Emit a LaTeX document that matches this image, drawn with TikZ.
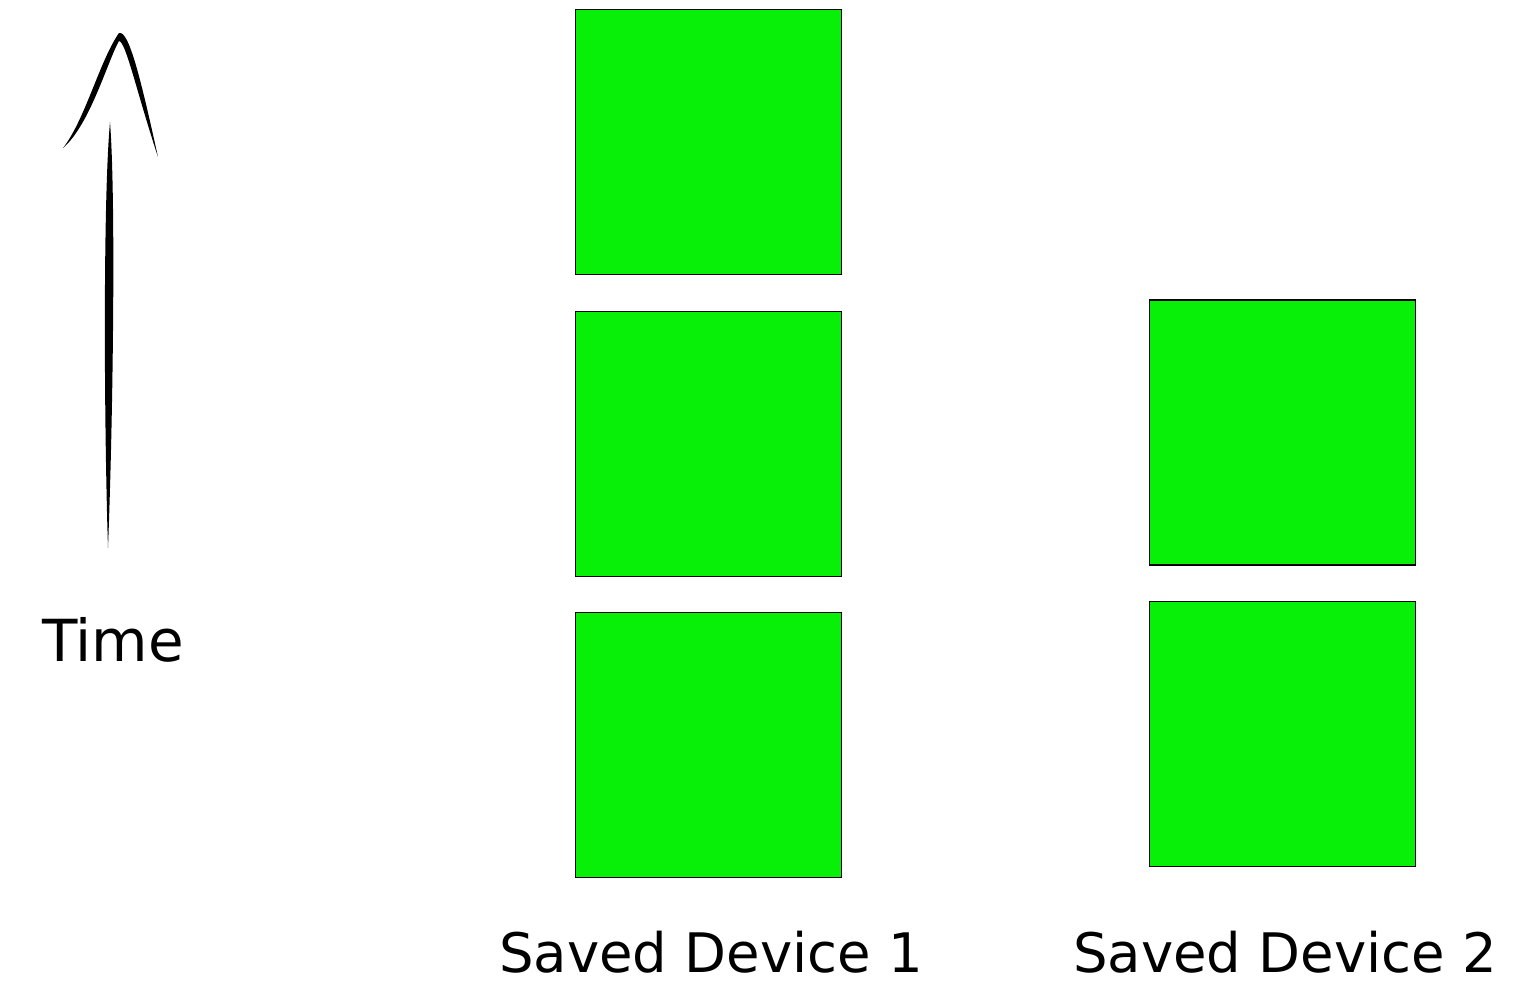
\documentclass[tikz,border=0pt]{standalone}
\usepackage{tikz}
\usepackage{xcolor}
\usepackage{fontspec}
\setmainfont{DejaVu Sans}
\definecolor{saved}{RGB}{8,240,8}

\begin{document}
\begin{tikzpicture}[x=0.02cm,y=-0.02cm]
  \useasboundingbox (0,0) rectangle (1528,994);
  \tikzset{savebox/.style={draw=black,line width=1pt,fill=saved,minimum width=5.32cm,minimum height=5.30cm,inner sep=0pt},
    label text/.style={font=\fontsize{31}{36}\selectfont}}
  % device 1
  \node[savebox] (a1) at (708.5,142) {};
  \node[savebox] (a2) at (708.5,444) {};
  \node[savebox] (a3) at (708.5,745) {};
  % device 2
  \node[savebox] (b1) at (1282.5,432.5) {};
  \node[savebox] (b2) at (1282.5,734) {};
  \node[label text] (lbl1) at (711,952) {Saved Device 1};
  \node[label text] (lbl2) at (1285,952) {Saved Device 2};
  % time arrow
  \coordinate (tail) at (108,548);
  \coordinate (head) at (110,122);
  \coordinate (tip) at (119,33);
  \fill (head) .. controls (116,200) and (113,420) .. (tail)
        .. controls (104,420) and (103,200) .. (head);
  \fill (63,148) .. controls (85,120) and (100,60) .. (tip)
        .. controls (129,30) and (141,80) .. (158,157)
        .. controls (136,90) and (126,42) .. (119,41)
        .. controls (108,60) and (90,125) .. (63,148);
  \node[label text,font=\fontsize{33}{38}\selectfont] (time) at (113,640) {Time};
\end{tikzpicture}
\end{document}
